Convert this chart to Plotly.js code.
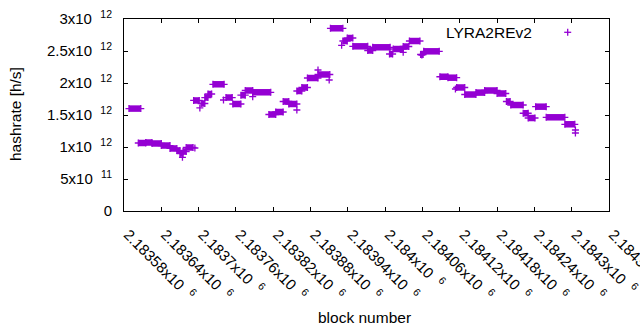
<!DOCTYPE html>
<html>
<head>
<meta charset="utf-8">
<script src="https://cdn.plot.ly/plotly-3.0.1.min.js"></script>
<style>html,body{margin:0;padding:0;background:#fff;}#chart{width:640px;height:330px;}</style>
</head>
<body>
<div id="chart"></div>
<script>
// Runs of (nearly) constant hashrate: first block, last block, hashrate [h/s]
const segStart = [2183588,2183603,2183615,2183625,2183640,2183654,2183665,2183670,2183675,2183680,
  2183692,2183704,2183710,2183715,2183723,2183744,2183755,2183768,2183775,2183787,
  2183813,2183824,2183836,2183845,2183858,2183866,2183875,2183892,2183912,2183932,
  2183939,2183948,2183972,2183980,2184007,2184013,2184029,2184039,2184057,2184062,
  2184088,2184101,2184115,2184128,2184146,2184160,2184180,2184195,2184202,2184222,
  2184230,2184242,2184259,2184289];
const segEnd = [2183607,2183615,2183625,2183640,2183654,2183665,2183670,2183675,2183680,2183691,
  2183701,2183710,2183715,2183721,2183741,2183754,2183768,2183775,2183787,2183816,
  2183824,2183836,2183845,2183858,2183866,2183875,2183892,2183911,2183932,2183939,
  2183948,2183972,2183980,2184008,2184012,2184029,2184038,2184056,2184061,2184087,
  2184101,2184115,2184128,2184146,2184160,2184180,2184194,2184201,2184222,2184230,
  2184241,2184259,2184289,2184305];
const segValue = [1.60e12,1.0625e12,1.07e12,1.055e12,1.023e12,0.977e12,0.945e12,0.898e12,0.93e12,0.992e12,
  1.727e12,1.68e12,1.773e12,1.828e12,1.98e12,1.773e12,1.672e12,1.81e12,1.883e12,1.855e12,
  1.508e12,1.547e12,1.711e12,1.672e12,1.875e12,1.93e12,2.078e12,2.133e12,2.855e12,2.656e12,
  2.703e12,2.573e12,2.508e12,2.558e12,2.453e12,2.531e12,2.57e12,2.656e12,2.445e12,2.495e12,
  2.098e12,2.083e12,1.93e12,1.82e12,1.85e12,1.883e12,1.836e12,1.711e12,1.656e12,1.527e12,
  1.453e12,1.63e12,1.464e12,1.355e12];
// Isolated outlier blocks
const ptBlock = [2183674,2183694,2183702,2183740,2183787,2183858,2183892,2183910,2183930,2184029,2184059,2184113,2184306,2184306];
const ptValue = [0.839e12,0.984e12,1.61e12,1.734e12,1.786e12,1.578e12,2.203e12,2.047e12,2.589e12,2.48e12,2.4375e12,1.906e12,1.266e12,1.219e12];

const seriesName = 'LYRA2REv2';
const xTickVals = [2183580,2183640,2183700,2183760,2183820,2183880,2183940,2184000,2184060,2184120,2184180,2184240,2184300,2184360];
const xTickText = ['2.18358x10','2.18364x10','2.1837x10','2.18376x10','2.18382x10','2.18388x10','2.18394x10','2.184x10','2.18406x10','2.18412x10','2.18418x10','2.18424x10','2.1843x10','2.18436x10'];
const xTickExp = '6';
const yTickVals = [0,5e11,1e12,1.5e12,2e12,2.5e12,3e12];
const yTickText = ['0','5x10','1x10','1.5x10','2x10','2.5x10','3x10'];
const yTickExp = ['','11','12','12','12','12','12'];

const color = '#9400d3';
const FONT = 'Liberation Sans, Arial, sans-serif';
const NB = '\u00a0\u00a0';

const lx = [], ly = [];
for (let i = 0; i < segStart.length; i++) {
  lx.push(segStart[i], segEnd[i], null);
  ly.push(segValue[i], segValue[i], null);
}
const mk = {symbol:'cross-thin', size:5, color:color, line:{width:1.3, color:color}};
const traces = [
  {type:'scatter', mode:'lines+markers', x:lx, y:ly, connectgaps:false,
   line:{color:color, width:6.5}, marker:mk, name:seriesName, showlegend:false, hoverinfo:'x+y'},
  {type:'scatter', mode:'markers', x:ptBlock, y:ptValue, marker:mk, name:seriesName, showlegend:false}
];

const PL = 124, PR = 609, PT = 19, PB = 211;
const W = PR - PL, H = PB - PT;
const px = v => (v - PL) / W;
const py = v => (PB - v) / H;

const layout = {
  width:640, height:330,
  margin:{l:PL, r:640-PR, t:PT, b:330-PB, pad:0},
  paper_bgcolor:'#fff', plot_bgcolor:'#fff',
  font:{family:FONT, size:15, color:'#000'},
  showlegend:false,
  xaxis:{range:[2183580,2184360], tickmode:'array', tickvals:xTickVals,
    ticktext:xTickText.map(t => t + NB + '<sup>' + xTickExp + '</sup>'),
    tickangle:45, ticks:'inside', ticklen:4, tickcolor:'#000', showline:true, linecolor:'#000', linewidth:1,
    mirror:'ticks', showgrid:false, zeroline:false, automargin:false, ticklabelstandoff:8, ticklabelshift:4,
    ticklabeloverflow:'allow', tickfont:{family:FONT, size:15, color:'#000'}},
  yaxis:{range:[0,3e12], tickmode:'array', tickvals:yTickVals,
    ticktext:yTickText.map((t,i) => yTickExp[i] ? t + NB + '<sup>' + yTickExp[i] + '</sup>' : t),
    ticks:'inside', ticklen:4, tickcolor:'#000', showline:true, linecolor:'#000', linewidth:1,
    mirror:'ticks', showgrid:false, zeroline:false, automargin:false, ticklabelstandoff:8,
    tickfont:{family:FONT, size:15, color:'#000'}},
  annotations:[
    {text:'hashrate [h/s]', xref:'paper', yref:'paper', x:px(15), y:py(114), textangle:-90,
     showarrow:false, xanchor:'center', yanchor:'middle', font:{family:FONT, size:15.5, color:'#000'}},
    {text:'block number', xref:'paper', yref:'paper', x:px(364), y:py(317), showarrow:false,
     xanchor:'center', yanchor:'middle', font:{family:FONT, size:15.5, color:'#000'}},
    {text:seriesName, xref:'paper', yref:'paper', x:px(534), y:py(32), showarrow:false,
     xanchor:'right', yanchor:'middle', font:{family:FONT, size:15.5, color:'#000'}}
  ],
  shapes:[
    {type:'line', xref:'paper', yref:'paper', x0:px(564.2), x1:px(571.2), y0:py(32.3), y1:py(32.3), line:{color:color, width:1.3}},
    {type:'line', xref:'paper', yref:'paper', x0:px(567.7), x1:px(567.7), y0:py(28.8), y1:py(35.8), line:{color:color, width:1.3}}
  ]
};

Plotly.newPlot('chart', traces, layout, {staticPlot:true, displayModeBar:false});
</script>
</body>
</html>
